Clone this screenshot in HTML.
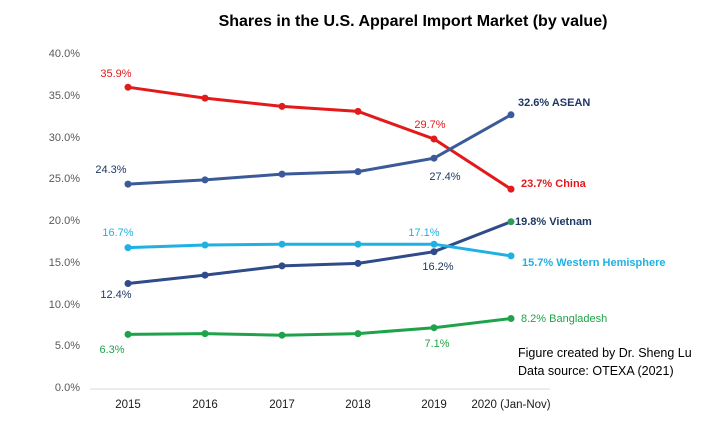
<!DOCTYPE html>
<html><head><meta charset="utf-8"><style>
html,body{margin:0;padding:0;background:#fff;}
svg{display:block;font-family:"Liberation Sans",sans-serif;}
</style></head><body>
<svg width="713" height="432" viewBox="0 0 713 432" xmlns="http://www.w3.org/2000/svg">
<rect width="713" height="432" fill="#fff"/>
<text x="413" y="26" text-anchor="middle" font-size="16" font-weight="bold" fill="#000">Shares in the U.S. Apparel Import Market (by value)</text>
<g font-size="11" fill="#595959" text-anchor="end">
<text x="80" y="57">40.0%</text><text x="80" y="99">35.0%</text><text x="80" y="141">30.0%</text>
<text x="80" y="182">25.0%</text><text x="80" y="224">20.0%</text><text x="80" y="266">15.0%</text>
<text x="80" y="308">10.0%</text><text x="80" y="349">5.0%</text><text x="80" y="391">0.0%</text>
</g>
<line x1="90" y1="389" x2="550" y2="389" stroke="#d9d9d9"/>
<g font-size="11.5" fill="#1a1a1a" text-anchor="middle">
<text x="128" y="408">2015</text><text x="205" y="408">2016</text><text x="282" y="408">2017</text>
<text x="358" y="408">2018</text><text x="434" y="408">2019</text><text x="511" y="408">2020 (Jan-Nov)</text>
</g>
<g fill="none" stroke-width="3">
<polyline stroke="#e31a1c" points="128,87.2 205,98.1 282,106.4 358,111.4 434,139.0 511,189.1"/>
<polyline stroke="#3a5a99" points="128,184.1 205,179.9 282,174.1 358,171.6 434,158.2 511,114.8"/>
<polyline stroke="#2f4b8a" points="128,283.5 205,275.1 282,265.9 358,263.4 434,251.7 511,221.7"/>
<polyline stroke="#1fb1e3" points="128,247.6 205,245.0 282,244.2 358,244.2 434,244.2 511,255.9"/>
<polyline stroke="#1fa34a" points="128,334.4 205,333.6 282,335.2 358,333.6 434,327.7 511,318.5"/>
</g>
<g fill="#e31a1c"><circle cx="128" cy="87.2" r="3.5"/><circle cx="205" cy="98.1" r="3.5"/><circle cx="282" cy="106.4" r="3.5"/><circle cx="358" cy="111.4" r="3.5"/><circle cx="434" cy="139" r="3.5"/><circle cx="511" cy="189.1" r="3.5"/></g>
<g fill="#3a5a99"><circle cx="128" cy="184.1" r="3.5"/><circle cx="205" cy="179.9" r="3.5"/><circle cx="282" cy="174.1" r="3.5"/><circle cx="358" cy="171.6" r="3.5"/><circle cx="434" cy="158.2" r="3.5"/><circle cx="511" cy="114.8" r="3.5"/></g>
<g fill="#2f4b8a"><circle cx="128" cy="283.5" r="3.5"/><circle cx="205" cy="275.1" r="3.5"/><circle cx="282" cy="265.9" r="3.5"/><circle cx="358" cy="263.4" r="3.5"/><circle cx="434" cy="251.7" r="3.5"/></g>
<g fill="#1fb1e3"><circle cx="128" cy="247.6" r="3.5"/><circle cx="205" cy="245" r="3.5"/><circle cx="282" cy="244.2" r="3.5"/><circle cx="358" cy="244.2" r="3.5"/><circle cx="434" cy="244.2" r="3.5"/><circle cx="511" cy="255.9" r="3.5"/></g>
<g fill="#1fa34a"><circle cx="128" cy="334.4" r="3.5"/><circle cx="205" cy="333.6" r="3.5"/><circle cx="282" cy="335.2" r="3.5"/><circle cx="358" cy="333.6" r="3.5"/><circle cx="434" cy="327.7" r="3.5"/><circle cx="511" cy="318.5" r="3.5"/></g>
<circle cx="511" cy="221.7" r="3.5" fill="#2f9a5a"/>
<g font-size="11">
<text x="116" y="77" text-anchor="middle" fill="#e31a1c">35.9%</text>
<text x="430" y="128" text-anchor="middle" fill="#e31a1c">29.7%</text>
<text x="521" y="187" fill="#e31a1c" font-weight="bold">23.7% China</text>
<text x="111" y="173" text-anchor="middle" fill="#1f3864">24.3%</text>
<text x="445" y="180" text-anchor="middle" fill="#1f3864">27.4%</text>
<text x="518" y="106" fill="#1f3864" font-weight="bold">32.6% ASEAN</text>
<text x="116" y="298" text-anchor="middle" fill="#1f3864">12.4%</text>
<text x="438" y="270" text-anchor="middle" fill="#1f3864">16.2%</text>
<text x="515" y="225" fill="#1f3864" font-weight="bold">19.8% Vietnam</text>
<text x="118" y="236" text-anchor="middle" fill="#1fb1e3">16.7%</text>
<text x="424" y="236" text-anchor="middle" fill="#1fb1e3">17.1%</text>
<text x="522" y="266" fill="#1fb1e3" font-weight="bold">15.7% Western Hemisphere</text>
<text x="112" y="353" text-anchor="middle" fill="#1fa34a">6.3%</text>
<text x="437" y="347" text-anchor="middle" fill="#1fa34a">7.1%</text>
<text x="521" y="322" fill="#1fa34a">8.2% Bangladesh</text>
</g>
<g font-size="12.5" fill="#000">
<text x="518" y="357">Figure created by Dr. Sheng Lu</text>
<text x="518" y="375">Data source: OTEXA (2021)</text>
</g>
</svg>
</body></html>
